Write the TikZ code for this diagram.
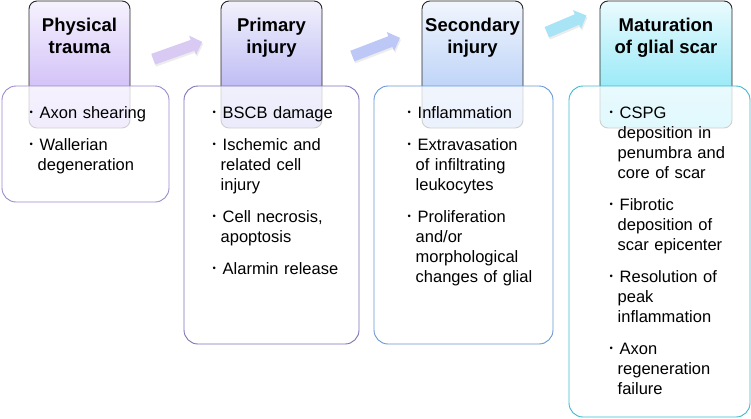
\documentclass[tikz,border=0pt]{standalone}
\usepackage{fontspec}
\setmainfont{Liberation Sans}
\usetikzlibrary{shapes.arrows,shadows}
\definecolor{hA}{HTML}{C2ABF5}
\definecolor{hB}{HTML}{A6A3EF}
\definecolor{hC}{HTML}{A6C4F5}
\definecolor{hD}{HTML}{74E2F5}
\definecolor{bA}{HTML}{9C89CC}
\definecolor{bB}{HTML}{7A73B8}
\definecolor{bC}{HTML}{6798D3}
\definecolor{bD}{HTML}{3DBACE}
\definecolor{aA}{HTML}{D9CAF4}
\definecolor{aB}{HTML}{BEC8F6}
\definecolor{aC}{HTML}{A8E3F6}
\newcommand\bul{\makebox[10pt][l]{\raisebox{3pt}{\fontsize{9.5}{9.5}\selectfont •}}}
\newcommand\itm[1]{\noindent\hangindent=8pt\hangafter=1\strut\bul#1\strut\par\vspace{12pt}}
\tikzset{
  header/.style={draw=black!85, line width=0.9pt, rounded corners=8pt, inner sep=0pt},
  lowbox/.style={line width=0.9pt, rounded corners=14pt, fill=white, fill opacity=0.78, inner sep=0pt},
  htext/.style={anchor=north, inner sep=0pt, align=center, font=\fontsize{18.5}{22}\selectfont\bfseries},
  btext/.style={anchor=north west, inner sep=0pt, align=left, font=\fontsize{16.5}{20}\selectfont},
  barrow/.style={single arrow, inner xsep=0pt, inner ysep=5.5pt, single arrow head extend=4.5pt,
     drop shadow={opacity=0.15, shadow xshift=1pt, shadow yshift=-2pt}}
}
\begin{document}
\begin{tikzpicture}[x=1pt,y=-1pt]
\useasboundingbox (0,0) rectangle (751,418);
% headers
\node[header, top color=hA!15, bottom color=hA, minimum width=101pt, minimum height=127pt] (h1) at (79.5,64.5) {};
\node[header, top color=hB!15, bottom color=hB, minimum width=101pt, minimum height=127pt] (h2) at (271.5,64.5) {};
\node[header, top color=hC!15, bottom color=hC, minimum width=101pt, minimum height=127pt] (h3) at (472.5,64.5) {};
\node[header, top color=hD!15, bottom color=hD, minimum width=132pt, minimum height=127pt] (h4) at (666,64.5) {};
% lower boxes
\node[lowbox, draw=bA, minimum width=167pt, minimum height=116pt] (l1) at (85.5,144) {};
\node[lowbox, draw=bB, minimum width=175pt, minimum height=258pt] (l2) at (271.5,215) {};
\node[lowbox, draw=bC, minimum width=179pt, minimum height=258pt] (l3) at (463.5,215) {};
\node[lowbox, draw=bD, minimum width=181pt, minimum height=331pt] (l4) at (659.5,251.5) {};
% header texts
\node[htext] (t1) at (79.5,15.6) {\strut Physical\\\strut trauma};
\node[htext] (t2) at (271.5,15.6) {\strut Primary\\\strut injury};
\node[htext] (t3) at (472.5,15.6) {\strut Secondary\\\strut injury};
\node[htext] (t4) at (666,15.6) {\strut Maturation\\\strut of glial scar};
% body texts
\node[btext, text width=135pt] (b1) at (29.5,104) {\itm{Axon shearing}\itm{Wallerian\newline degeneration}};
\node[btext, text width=140pt] (b2) at (212.5,104) {\itm{BSCB damage}\itm{Ischemic and\newline related cell\newline injury}\itm{Cell necrosis,\newline apoptosis}\itm{Alarmin release}};
\node[btext, text width=140pt] (b3) at (407.5,104) {\itm{Inflammation}\itm{Extravasation\newline of infiltrating\newline leukocytes}\itm{Proliferation\newline and/or\newline morphological\newline changes of glial}};
\node[btext, text width=140pt] (b4) at (609.5,104) {\itm{CSPG\newline deposition in\newline penumbra and\newline core of scar}\itm{Fibrotic\newline deposition of\newline scar epicenter}\itm{Resolution of\newline peak\newline inflammation}\itm{Axon\newline regeneration\newline failure}};
% block arrows
\node[barrow, minimum height=52pt, rotate=19.5, fill=aA] (a1) at (175,51.5) {};
\node[barrow, minimum height=51pt, rotate=21, fill=aB] (a2) at (373.5,48) {};
\node[barrow, minimum height=43pt, rotate=23, fill=aC] (a3) at (564,25) {};
\end{tikzpicture}
\end{document}
